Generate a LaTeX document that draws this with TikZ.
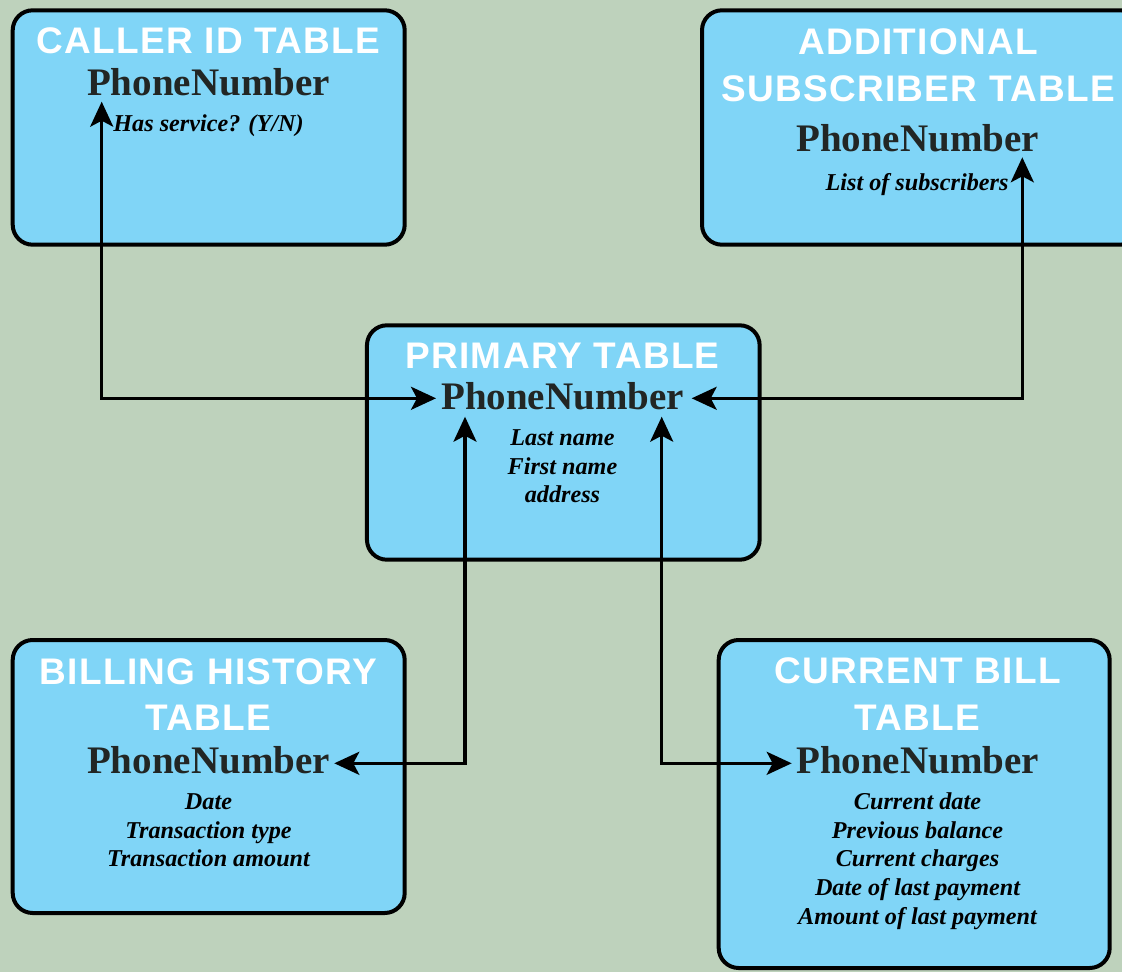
\documentclass[tikz,border=0pt]{standalone}
\usepackage{fontspec}
\setmainfont{Liberation Serif}
\newfontfamily\titlefont{Liberation Sans}[LetterSpace=3.5]
\usetikzlibrary{arrows.meta}
\definecolor{bg}{HTML}{BED2BC}
\definecolor{boxfill}{HTML}{80D5F7}
\definecolor{pncol}{HTML}{222624}
\begin{document}
\begin{tikzpicture}[x=1pt,y=-1pt,
  tbl/.style={draw=black, line width=4pt, fill=boxfill, rounded corners=20pt, inner sep=0pt},
  ttl/.style={anchor=base, text=white, font=\titlefont\bfseries\fontsize{37}{46}\selectfont, inner sep=0pt},
  pn/.style={anchor=base, text=pncol, font=\bfseries\fontsize{39}{46}\selectfont, inner sep=0pt},
  fld/.style={anchor=base, text=black, font=\bfseries\itshape\fontsize{24.2}{29}\selectfont, inner sep=0pt},
  link/.style={line width=3.2pt, {Stealth[length=25pt,width=23pt,inset=6pt]}-{Stealth[length=25pt,width=23pt,inset=6pt]}}]
\useasboundingbox (0,0) rectangle (1122,972);
\fill[bg] (0,0) rectangle (1122,972);

% boxes
\node[tbl, minimum width=392pt, minimum height=234.4pt] (callerbox) at (208.7,127.5) {};
\node[tbl, minimum width=438pt, minimum height=234.4pt] (addbox) at (921,127.5) {};
\node[tbl, minimum width=392.7pt, minimum height=234.4pt] (primbox) at (563.3,442.5) {};
\node[tbl, minimum width=392pt, minimum height=273pt] (billbox) at (208.7,776.5) {};
\node[tbl, minimum width=391pt, minimum height=328pt] (curbox) at (914.2,804) {};

% caller id
\node[ttl] (cT) at (208.5,53.3) {CALLER ID TABLE};
\node[pn] (cPN) at (208.5,95) {PhoneNumber};
\node[fld] (cF1) at (208.5,131.5) {Has service? (Y/N)};

% additional subscriber
\node[ttl] (aT1) at (918,54.3) {ADDITIONAL};
\node[ttl] (aT2) at (918,101) {SUBSCRIBER TABLE};
\node[pn] (aPN) at (917.5,151.7) {PhoneNumber};
\node[fld] (aF1) at (917,190) {List of subscribers};

% primary
\node[ttl] (pT) at (562.5,368.3) {PRIMARY TABLE};
\node[pn] (pPN) at (562.5,409.3) {PhoneNumber};
\node[fld] (pF1) at (562.5,445) {Last name};
\node[fld] (pF2) at (562.5,474.3) {First name};
\node[fld] (pF3) at (562.5,502.7) {address};

% billing history
\node[ttl] (bT1) at (208.5,684.3) {BILLING HISTORY};
\node[ttl] (bT2) at (208.5,730.7) {TABLE};
\node[pn] (bPN) at (208.5,773.3) {PhoneNumber};
\node[fld] (bF1) at (208.5,809) {Date};
\node[fld] (bF2) at (208.5,838.3) {Transaction type};
\node[fld] (bF3) at (208.5,866.7) {Transaction amount};

% current bill
\node[ttl] (uT1) at (917.5,683.3) {CURRENT BILL};
\node[ttl] (uT2) at (917.5,730.7) {TABLE};
\node[pn] (uPN) at (917.5,773.3) {PhoneNumber};
\node[fld] (uF1) at (917.5,809) {Current date};
\node[fld] (uF2) at (917.5,838.3) {Previous balance};
\node[fld] (uF3) at (917.5,866.7) {Current charges};
\node[fld] (uF4) at (917.5,895.7) {Date of last payment};
\node[fld] (uF5) at (917.5,924) {Amount of last payment};

% arrow end points
\coordinate (tC) at (101.7,101.7);
\coordinate (tPL) at (436,398.3);
\coordinate (tA) at (1022.3,157.3);
\coordinate (tPR) at (691.7,398.3);
\coordinate (tPB) at (465,416.7);
\coordinate (tB) at (334.3,763.3);
\coordinate (tPC) at (661.7,416.7);
\coordinate (tU) at (791.7,763.3);

\draw[link] (tC) |- (tPL);
\draw[link] (tA) |- (tPR);
\draw[link] (tPB) |- (tB);
\draw[link] (tPC) |- (tU);
\end{tikzpicture}
\end{document}
